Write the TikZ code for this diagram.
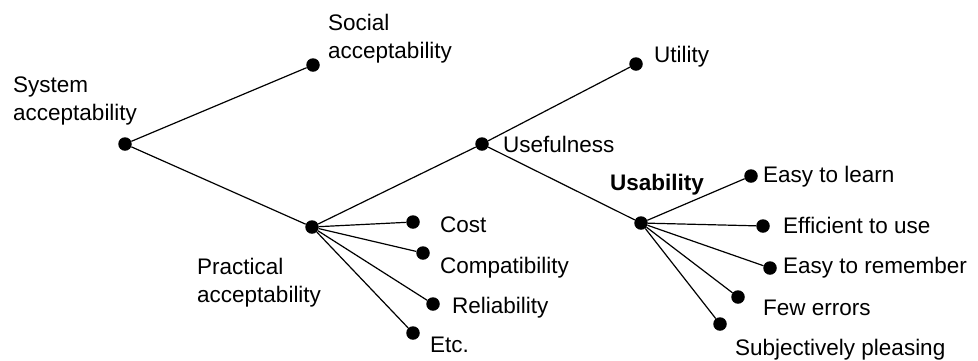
\documentclass[tikz,border=0pt]{standalone}
\usepackage{fontspec}
\setmainfont{Liberation Sans}

\begin{document}
\begin{tikzpicture}[x=1pt,y=-1pt,
    dot/.style={circle,fill=black,inner sep=0pt,minimum size=13.5pt},
    txt/.style={anchor=base west,inner sep=0pt,align=left,
        font=\fontsize{22.5}{27.5}\selectfont},
    branch/.style={line width=1.2pt}]
    \useasboundingbox[fill=white] (0,0) rectangle (978,360);

    % Important points are defined
    \node[dot] (sys)   at (125,144) {};
    \node[dot] (soc)   at (313,65) {};
    \node[dot] (prac)  at (312,227) {};
    \node[dot] (usef)  at (482,144) {};
    \node[dot] (util)  at (636,64) {};
    \node[dot] (usab)  at (641,223) {};
    \node[dot] (cost)  at (413,222) {};
    \node[dot] (comp)  at (423,253) {};
    \node[dot] (rel)   at (433,304) {};
    \node[dot] (etc)   at (413,333) {};
    \node[dot] (learn) at (751,176) {};
    \node[dot] (eff)   at (763,226) {};
    \node[dot] (rem)   at (770,268) {};
    \node[dot] (err)   at (738,297) {};
    \node[dot] (pleas) at (720,324) {};

    % Branches of the tree
    \draw[branch] (sys) -- (soc);
    \draw[branch] (sys) -- (prac);
    \draw[branch] (prac) -- (usef);
    \draw[branch] (prac) -- (cost);
    \draw[branch] (prac) -- (comp);
    \draw[branch] (prac) -- (rel);
    \draw[branch] (prac) -- (etc);
    \draw[branch] (usef) -- (util);
    \draw[branch] (usef) -- (usab);
    \draw[branch] (usab) -- (learn);
    \draw[branch] (usab) -- (eff);
    \draw[branch] (usab) -- (rem);
    \draw[branch] (usab) -- (err);
    \draw[branch] (usab) -- (pleas);

    % Labels (two-line ones sit on the baseline of their last line)
    \node[txt] (sysl)   at (13,120)  {System\\acceptability};
    \node[txt] (socl)   at (328,58)  {Social\\acceptability};
    \node[txt] (pracl)  at (197,302) {Practical\\acceptability};
    \node[txt] (usefl)  at (503,152) {Usefulness};
    \node[txt] (utill)  at (654,62)  {Utility};
    \node[txt,font=\fontsize{22.5}{27.5}\selectfont\bfseries] (usabl) at (610,190) {Usability};
    \node[txt] (costl)  at (440,232) {Cost};
    \node[txt] (compl)  at (440,273) {Compatibility};
    \node[txt] (rell)   at (452,313) {Reliability};
    \node[txt] (etcl)   at (430,352) {Etc.};
    \node[txt] (learnl) at (763,182) {Easy to learn};
    \node[txt] (effl)   at (783,233) {Efficient to use};
    \node[txt] (reml)   at (783,273) {Easy to remember};
    \node[txt] (errl)   at (763,315) {Few errors};
    \node[txt] (pleasl) at (735,355) {Subjectively pleasing};
\end{tikzpicture}
\end{document}
